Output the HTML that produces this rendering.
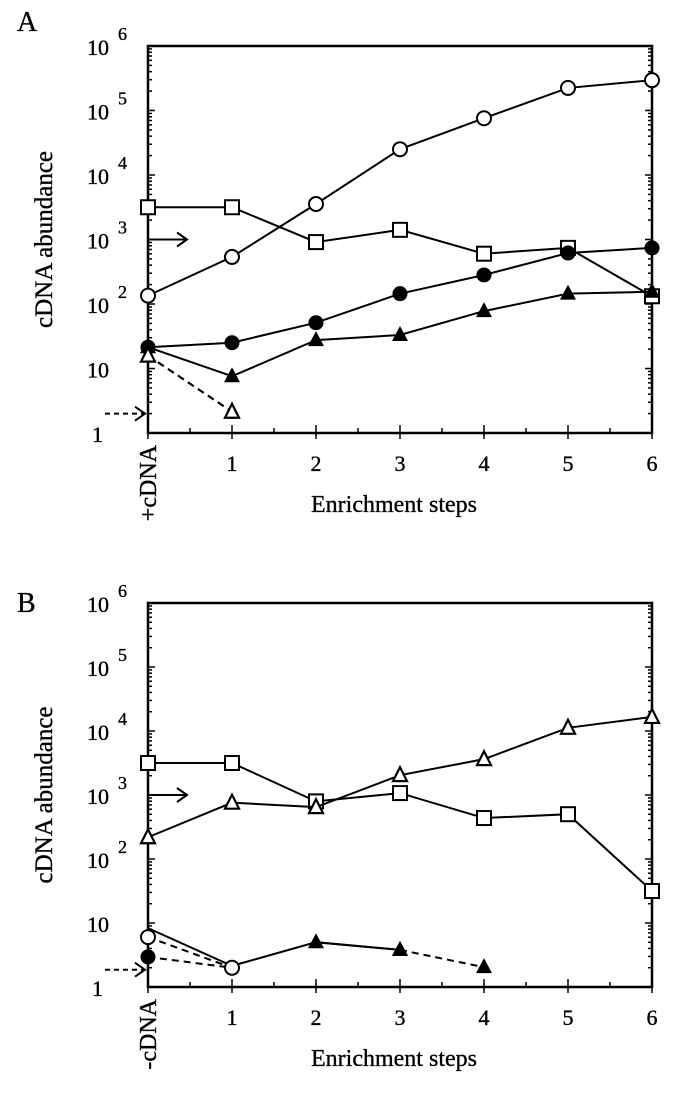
<!DOCTYPE html>
<html><head><meta charset="utf-8"><style>
html,body{margin:0;padding:0;background:#fff;}
svg{display:block;font-family:"Liberation Serif",serif;}
svg text{stroke:#000;stroke-width:0.35;}
</style></head><body>
<svg id="fig" width="691" height="1100" viewBox="0 0 691 1100" xmlns="http://www.w3.org/2000/svg"></svg>
<script>
// Panel A data (log10 abundance)
const stepsA = [0,1,2,3,4,5,6];
const openCircleA = [2.13,2.73,3.55,4.40,4.88,5.35,5.47];
const openSquareA = [3.5,3.5,2.96,3.15,2.78,2.87,2.12];
const filledCircleA = [1.33,1.40,1.71,2.16,2.45,2.79,2.87];
const filledTriA = [1.33,0.88,1.44,1.52,1.89,2.16,2.19];
const openTriStepsA = [0,1];
const openTriA = [1.2,0.33];
// Panel B data
const stepsB = [0,1,2,3,4,5,6];
const openSquareB = [3.5,3.5,2.9,3.03,2.64,2.7,1.5];
const openTriB = [2.34,2.88,2.81,3.31,3.56,4.05,4.22];
const filledTriStepsB = [0,1,2,3];
const filledTriB = [0.92,0.33,0.70,0.58];
const filledTriDashStepsB = [3,4];
const filledTriDashB = [0.58,0.31];
const openCircleStepsB = [0,1];
const openCircleB = [0.78,0.30];
const filledCircleStepsB = [0,1];
const filledCircleB = [0.47,0.30];
const yTickExp = ["1","10","10","10","10","10","10"];
const yTickSup = ["","","2","3","4","5","6"];
const xTickLabels = ["","1","2","3","4","5","6"];

const NS="http://www.w3.org/2000/svg";
const svg=document.getElementById('fig');
function mk(tag,attrs,parent){const e=document.createElementNS(NS,tag);for(const k in attrs)e.setAttribute(k,attrs[k]);(parent||svg).appendChild(e);return e;}

function panel(top,bottom,letter,letterY,zeroLabel,prefix){
  const L=148,R=652;
  const g=mk('g',{});
  
  
  const sx=v=>L+(R-L)*v/6;
  const sy=v=>bottom-(bottom-top)*v/6;
  const t=mk('text',{x:17,y:letterY,'font-size':28},g);t.textContent=letter;
  
  const fr=mk('rect',{x:L,y:top,width:R-L,height:bottom-top,fill:'none',stroke:'#000','stroke-width':2.5},g);
  
  for(let d=0;d<6;d++){
    for(let m=1;m<10;m++){
      const y=sy(d+Math.log10(m));
      const len=m===1?7:4;
      mk('line',{x1:L,y1:y,x2:L+len,y2:y,stroke:'#000','stroke-width':1.5},g);
      mk('line',{x1:R,y1:y,x2:R-len,y2:y,stroke:'#000','stroke-width':1.5},g);
    }
  }
  for(let d=0;d<=6;d++){
    const y=sy(d);
    const tx=mk('text',{x:d===0?92:87,y:y+9,'font-size':22},g);
    tx.textContent=yTickExp[d];
    
    if(yTickSup[d]){const s=mk('text',{x:118,y:y-6,'font-size':18},g);s.textContent=yTickSup[d];}
  }
  for(let i=0;i<=12;i++){
    const x=sx(i/2);const len=i%2===0?8:5;
    mk('line',{x1:x,y1:bottom,x2:x,y2:bottom-len,stroke:'#000','stroke-width':1.5},g);
    mk('line',{x1:x,y1:bottom,x2:x,y2:bottom+(i%2===0?6:0),stroke:'#000','stroke-width':1.5},g);
  }
  for(let i=1;i<=6;i++){
    const tx=mk('text',{x:sx(i),y:bottom+38,'font-size':22,'text-anchor':'middle'},g);
    tx.textContent=xTickLabels[i];
    
  }
  const zl=mk('text',{x:0,y:0,'font-size':24,'text-anchor':'end',transform:`translate(${L+8},${bottom+12}) rotate(-90)`},g);
  zl.textContent=zeroLabel;
  const xt=mk('text',{x:394,y:bottom+79,'font-size':24,'text-anchor':'middle'},g);
  xt.textContent='Enrichment steps';
  const yt=mk('text',{x:0,y:0,'font-size':25,'text-anchor':'middle',transform:`translate(52,${(top+bottom)/2}) rotate(-90)`},g);
  yt.textContent='cDNA abundance';
  return {g,sx,sy,L};
}

function series(p,xs,ys,marker,dashed,name){
  const g=mk('g',{},p.g);
  
  
  const pts=xs.map((x,i)=>p.sx(x)+','+p.sy(ys[i])).join(' ');
  mk('polyline',{points:pts,fill:'none',stroke:'#000','stroke-width':2,'stroke-dasharray':dashed?'7,5':'none'},g);
  if(!marker)return;
  xs.forEach((x,i)=>{
    const cx=p.sx(x),cy=p.sy(ys[i]);let m;
    if(marker==='oc')m=mk('circle',{cx,cy,r:7,fill:'#fff',stroke:'#000','stroke-width':2},g);
    if(marker==='fc')m=mk('circle',{cx,cy,r:7.5,fill:'#000'},g);
    if(marker==='os')m=mk('rect',{x:cx-7,y:cy-7,width:14,height:14,fill:'#fff',stroke:'#000','stroke-width':2},g);
    if(marker==='ot')m=mk('polygon',{points:`${cx},${cy-8} ${cx-7},${cy+6} ${cx+7},${cy+6}`,fill:'#fff',stroke:'#000','stroke-width':2.2},g);
    if(marker==='ft')m=mk('polygon',{points:`${cx},${cy-9} ${cx-8},${cy+6} ${cx+8},${cy+6}`,fill:'#000'},g);
    
    
  });
}
function arrow(p,x1,x2,v,dashed,name){
  const y=p.sy(v);
  const g=mk('g',{},p.g);
  
  mk('line',{x1,y1:y,x2:x2-1,y2:y,stroke:'#000','stroke-width':2,'stroke-dasharray':dashed?'5,4':'none'},g);
  mk('polyline',{points:`${x2-10},${y-7} ${x2},${y} ${x2-10},${y+7}`,fill:'none',stroke:'#000','stroke-width':2},g);
}

const A=panel(46,433,'A',31,'+cDNA','a');
series(A,openTriStepsA,openTriA,null,true,'a-open-triangle-line');
series(A,stepsA,openSquareA,'os',false,'a-open-square-series');
series(A,stepsA,openCircleA,'oc',false,'a-open-circle-series');
series(A,stepsA,filledCircleA,'fc',false,'a-filled-circle-series');
series(A,stepsA,filledTriA,'ft',false,'a-filled-triangle-series');
series(A,openTriStepsA,openTriA,'ot',true,'a-open-triangle-series');
arrow(A,148,187,3,false,'a-solid-arrow');
arrow(A,105,145,0.3,true,'a-dashed-arrow');

const B=panel(603,987,'B',612,'-cDNA','b');
series(B,stepsB,openSquareB,'os',false,'b-open-square-series');
series(B,stepsB,openTriB,'ot',false,'b-open-triangle-series');
series(B,filledTriDashStepsB,filledTriDashB,'ft',true,'b-filled-triangle-dashed');
series(B,filledTriStepsB,filledTriB,null,false,'b-filled-triangle-series');
series(B,[2,3],[filledTriB[2],filledTriB[3]],'ft',false,'b-filled-triangle-points');
series(B,filledCircleStepsB,filledCircleB,'fc',true,'b-filled-circle-series');
series(B,openCircleStepsB,openCircleB,'oc',true,'b-open-circle-series');
arrow(B,148,187,3,false,'b-solid-arrow');
arrow(B,105,145,0.27,true,'b-dashed-arrow');
</script>
</body></html>
